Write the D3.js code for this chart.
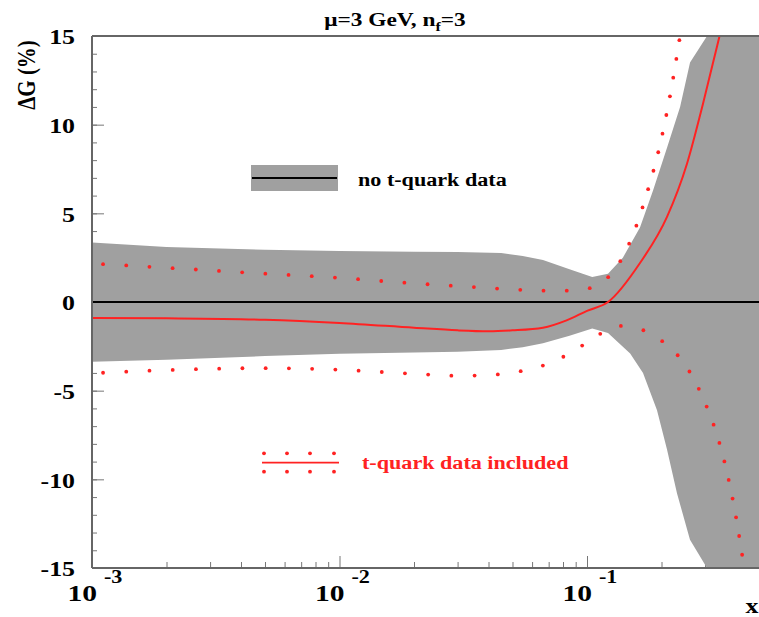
<!DOCTYPE html>
<html>
<head>
<meta charset="utf-8">
<script src="https://cdnjs.cloudflare.com/ajax/libs/d3/7.8.5/d3.min.js"></script>
<style>
body { margin: 0; background: #fff; }
svg { display: block; }
svg text { font-family: "Liberation Serif", "Times New Roman", Times, "DejaVu Serif", serif !important; font-weight: bold; }
</style>
</head>
<body>
<div class="chart"></div>
<script>
// DATA ------------------------------------

// grey band, fit without t-quark data (upper / lower edge)
const bandUpX = [0.001, 0.002, 0.005, 0.01, 0.02, 0.03, 0.045, 0.055, 0.0664, 0.085, 0.105, 0.1216, 0.1396, 0.1637, 0.185, 0.2105, 0.2377, 0.2608, 0.3055, 0.4, 1];
const bandUp = [3.35, 3.1, 2.95, 2.88, 2.83, 2.82, 2.76, 2.6, 2.37, 1.85, 1.41, 1.6, 2.5, 4.2, 6.3, 8.7, 11.0, 13.5, 15, 18, 25];
const bandLowX = [0.001, 0.002, 0.005, 0.01, 0.02, 0.03, 0.045, 0.055, 0.0664, 0.085, 0.105, 0.1216, 0.1494, 0.1684, 0.1918, 0.2104, 0.2311, 0.2607, 0.3054, 0.4, 1];
const bandLow = [-3.37, -3.25, -3.05, -2.92, -2.85, -2.8, -2.7, -2.55, -2.33, -1.9, -1.5, -1.75, -2.9, -4.0, -6.1, -8.3, -10.8, -13.4, -15, -18, -25];

// red solid line, t-quark data included
const solidX = [0.001, 0.002, 0.005, 0.01, 0.02, 0.03, 0.04, 0.05, 0.0664, 0.0822, 0.1, 0.1216, 0.1637, 0.2105, 0.2535, 0.2944, 0.335, 0.4];
const solid = [-0.9, -0.92, -1.0, -1.18, -1.45, -1.6, -1.65, -1.6, -1.45, -1.05, -0.5, 0, 2.2, 4.8, 7.8, 11.2, 14.4, 18.8];

// red dotted upper / lower edges
const dotUpX = [0.001, 0.002, 0.005, 0.01, 0.02, 0.03, 0.05, 0.0664, 0.0822, 0.1018, 0.1216, 0.1359, 0.1578, 0.1762, 0.1936, 0.2086, 0.2225, 0.2355, 0.25];
const dotUp = [2.17, 1.93, 1.6, 1.36, 1.05, 0.9, 0.71, 0.64, 0.64, 0.77, 1.39, 2.27, 4.25, 6.32, 8.39, 10.45, 12.56, 14.66, 17];
const dotLowX = [0.001, 0.002, 0.005, 0.01, 0.02, 0.03, 0.04, 0.05, 0.0656, 0.0794, 0.0946, 0.1122, 0.1351, 0.1664, 0.199, 0.2301, 0.2575, 0.3026, 0.3414, 0.372, 0.3986, 0.4217, 0.45];
const dotLow = [-4.02, -3.84, -3.73, -3.82, -4.05, -4.16, -4.12, -3.98, -3.61, -3.12, -2.5, -1.82, -1.35, -1.56, -2.16, -2.93, -3.85, -5.81, -7.86, -9.91, -12.0, -14.1, -16.5];

// ticks
const yTicks = [-15, -10, -5, 0, 5, 10, 15];
const xMajor = [1e-3, 1e-2, 1e-1];
const xExp = ["-3", "-2", "-1"];

// CHART INIT ------------------------------

const W = 759, H = 617;
const margin = ({top: 36, left: 92});
const width = 742.5;   // plot runs on to x = 1, the window cuts it off
const height = 532;
const stretch = 1.23;  // the picture is squeezed sideways a bit
const red = "#ff2222";
const serif = '"Liberation Serif", "Times New Roman", Times, "DejaVu Serif", serif';

const svg = d3.select(".chart").append("svg")
    .attr("width", W)
    .attr("height", H)
    .attr("font-family", serif)
    .attr("font-weight", "bold");

svg.append("defs").append("clipPath").attr("id", "plot")
    .append("rect").attr("width", width).attr("height", height);

const g = svg.append("g")
    .attr("transform", `translate(${margin.left},${margin.top})`);

const xScale = d3.scaleLog().domain([1e-3, 1]).range([0, width]);
const yScale = d3.scaleLinear().domain([-15, 15]).range([height, 0]);

// ticks first, the band is painted over them
const tickStyle = sel => {
    sel.attr("font-family", serif);
    sel.select(".domain").remove();
    sel.selectAll("line").attr("stroke", "#777");
};

g.append("g")
    .call(d3.axisLeft(yScale).tickValues(d3.range(-15, 16)).tickSize(-5).tickFormat(""))
    .call(tickStyle);

const yAxis = g.append("g")
    .call(d3.axisLeft(yScale).tickValues(yTicks).tickSize(-12).tickFormat(d => String(d)))
    .call(tickStyle)
    .attr("font-size", 21);
yAxis.selectAll("text")
    .attr("x", -17 / stretch)
    .attr("dy", "0.38em")
    .attr("fill", "#000")
    .attr("transform", `scale(${stretch},1)`);

const xMinor = xMajor.flatMap(d => d3.range(2, 10).map(k => k * d));
g.append("g")
    .attr("transform", `translate(0,${height})`)
    .call(d3.axisBottom(xScale).tickValues(xMinor).tickSize(-6).tickFormat(""))
    .call(tickStyle);
g.append("g")
    .attr("transform", `translate(0,${height})`)
    .call(d3.axisBottom(xScale).tickValues(xMajor).tickSize(-12).tickFormat(""))
    .call(tickStyle);

// DATA MARKS ------------------------------

const plot = g.append("g").attr("clip-path", "url(#plot)");

const upPts = bandUpX.map((d, i) => [xScale(d), yScale(bandUp[i])]);
const lowPts = bandLowX.map((d, i) => [xScale(d), yScale(bandLow[i])]).reverse();
plot.append("path")
    .attr("d", d3.line()(upPts.concat(lowPts)) + "Z")
    .attr("fill", "#a0a0a0");

plot.append("line")
    .attr("x1", 0).attr("x2", width)
    .attr("y1", yScale(0)).attr("y2", yScale(0))
    .attr("stroke", "#000")
    .attr("stroke-width", 1.8);

const line = d3.line()
    .x(d => xScale(d[0]))
    .y(d => yScale(d[1]))
    .curve(d3.curveMonotoneX);

plot.append("path")
    .attr("d", line(solidX.map((d, i) => [d, solid[i]])))
    .attr("fill", "none")
    .attr("stroke", red)
    .attr("stroke-width", 2);

// dots are spaced evenly along the curve in the unsqueezed plot
function dotsAlong(xs, vals, start, step) {
    const pts = xs.map((d, i) => [xScale(d) / stretch, yScale(vals[i])]);
    const path = g.append("path")
        .attr("d", d3.line().curve(d3.curveMonotoneX)(pts))
        .attr("fill", "none").attr("stroke", "none");
    const node = path.node();
    const len = node.getTotalLength();
    const out = [];
    for (let l = start; l <= len; l += step) {
        const p = node.getPointAtLength(l);
        out.push([p.x * stretch, p.y]);
    }
    path.remove();
    return out;
}

const dots = dotsAlong(dotUpX, dotUp, 9, 18.9).concat(dotsAlong(dotLowX, dotLow, 9, 18.9));
plot.selectAll("circle.dot")
    .data(dots)
    .join("circle")
    .attr("class", "dot")
    .attr("cx", d => d[0])
    .attr("cy", d => d[1])
    .attr("r", 1.9)
    .attr("fill", red);

// frame on top
const frame = g.append("g").attr("stroke", "#666").attr("stroke-width", 2);
frame.append("line").attr("x1", 0).attr("x2", 0).attr("y1", 0).attr("y2", height);
frame.append("line").attr("x1", 0).attr("x2", width).attr("y1", height).attr("y2", height);
frame.append("line").attr("x1", 0).attr("x2", width).attr("y1", 0).attr("y2", 0);

// x tick labels: 10 with exponent
const xLab = g.append("g").selectAll("g")
    .data(xMajor)
    .join("g")
    .attr("transform", d => `translate(${xScale(d)},${height})`);
xLab.append("text")
    .attr("transform", `translate(5,33) scale(${stretch},1)`)
    .attr("text-anchor", "end")
    .attr("font-size", 24)
    .text("10");
xLab.append("text")
    .attr("transform", `translate(12,15) scale(${stretch},1)`)
    .attr("font-size", 18)
    .text((d, i) => xExp[i]);

// TEXTS -----------------------------------

const txt = (x, y, size) => svg.append("text")
    .attr("transform", `translate(${x},${y}) scale(${stretch},1)`)
    .attr("font-size", size);

txt(752, 613, 21).attr("text-anchor", "middle").text("x");

const title = txt(395, 26, 19).attr("text-anchor", "middle");
title.append("tspan").text("μ=3 GeV, n");
title.append("tspan").attr("font-size", 13).attr("dy", 5).text("f");
title.append("tspan").attr("dy", -5).text("=3");

svg.append("text")
    .attr("transform", `translate(26,75) scale(${stretch},1) rotate(-90)`)
    .attr("text-anchor", "middle")
    .attr("dy", "0.35em")
    .attr("font-size", 21)
    .text("ΔG (%)");

// LEGEND ----------------------------------

svg.append("rect")
    .attr("x", 251).attr("y", 165)
    .attr("width", 87).attr("height", 26)
    .attr("fill", "#a0a0a0");
svg.append("line")
    .attr("x1", 252).attr("x2", 337)
    .attr("y1", 178).attr("y2", 178)
    .attr("stroke", "#000").attr("stroke-width", 1.8);
txt(358, 185.5, 18).text("no t-quark data");

svg.append("line")
    .attr("x1", 262).attr("x2", 339)
    .attr("y1", 462.7).attr("y2", 462.7)
    .attr("stroke", red).attr("stroke-width", 1.8);
const legDotX = [264, 287, 310, 334];
svg.selectAll("circle.leg")
    .data(legDotX.flatMap(x => [[x, 453.3], [x, 471.7]]))
    .join("circle")
    .attr("class", "leg")
    .attr("cx", d => d[0]).attr("cy", d => d[1])
    .attr("r", 1.9)
    .attr("fill", red);
txt(362, 468.5, 18).attr("fill", red).text("t-quark data included");
</script>
</body>
</html>
